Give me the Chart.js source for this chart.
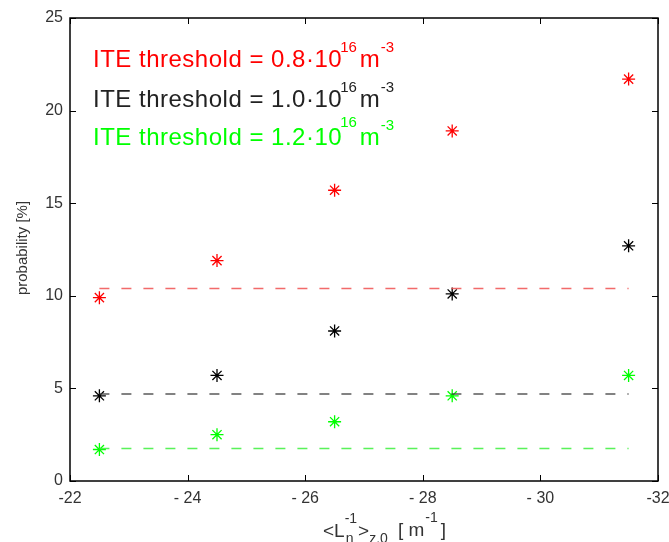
<!DOCTYPE html>
<html>
<head>
<meta charset="utf-8">
<script src="https://cdn.jsdelivr.net/npm/chart.js@4"></script>
<style>
html,body{margin:0;padding:0;background:#fff;}
#c{display:block;}
</style>
</head>
<body>
<canvas id="c" width="669" height="542"></canvas>
<script>
// ---- data ----
const xValues = [-22.5, -24.5, -26.5, -28.5, -31.5];
const probRed = [9.9, 11.9, 15.7, 18.9, 21.7];     // threshold 0.8e16
const probBlack = [4.6, 5.7, 8.1, 10.1, 12.7];    // threshold 1.0e16
const probGreen = [1.7, 2.5, 3.2, 4.6, 5.7];      // threshold 1.2e16
const thresholdLevels = [10.4, 4.7, 1.75];          // dashed reference levels (red, black, green)
const lineRange = [-22.5, -31.5];
const xTicks = [-22, -24, -26, -28, -30, -32];
const xTickLabels = ['-22', '- 24', '- 26', '- 28', '- 30', '-32'];
const yTicks = [0, 5, 10, 15, 20, 25];
const seriesColors = ['#ff0000', '#000000', '#00ff00'];
const dashColors = ['rgba(240,80,80,0.85)', 'rgba(60,60,60,0.85)', 'rgba(60,240,60,0.85)'];
const legendTexts = [
  ['ITE threshold = 0.8\u00b710', '16', 'm', '-3'],
  ['ITE threshold = 1.0\u00b710', '16', 'm', '-3'],
  ['ITE threshold = 1.2\u00b710', '16', 'm', '-3']
];

const FONT = '"Liberation Sans", Arial, Helvetica, sans-serif';

function pts(ys){ return xValues.map((x,i)=>({x:x, y:ys[i]})); }
function hline(v){ return lineRange.map(x=>({x:x, y:v})); }

const seriesData = [probRed, probBlack, probGreen];
const datasets = [];
thresholdLevels.forEach((v,i)=>{
  datasets.push({
    data: hline(v), showLine: true, borderColor: dashColors[i], borderWidth: 1.5,
    borderDash: [10, 12], pointRadius: 0, fill: false
  });
});
seriesData.forEach((ys,i)=>{
  datasets.push({
    data: pts(ys), showLine: false, pointStyle: 'star', pointRadius: 6.5,
    borderColor: seriesColors[i], backgroundColor: seriesColors[i], pointBorderWidth: 1.3
  });
});

const framePlugin = {
  id: 'frame',
  afterDraw(chart){
    const ctx = chart.ctx, a = chart.chartArea;
    const xs = chart.scales.x, ys = chart.scales.y;
    ctx.save();
    ctx.strokeStyle = '#000';
    ctx.lineWidth = 1.5;
    ctx.strokeRect(a.left, a.top, a.right - a.left, a.bottom - a.top);
    ctx.lineWidth = 1;
    const tl = 6;
    xTicks.forEach(t=>{
      const px = Math.round(xs.getPixelForValue(t)) + 0.5;
      ctx.beginPath();
      ctx.moveTo(px, a.bottom); ctx.lineTo(px, a.bottom - tl);
      ctx.moveTo(px, a.top); ctx.lineTo(px, a.top + tl);
      ctx.stroke();
    });
    yTicks.forEach(t=>{
      const py = Math.round(ys.getPixelForValue(t)) + 0.5;
      ctx.beginPath();
      ctx.moveTo(a.left, py); ctx.lineTo(a.left + tl, py);
      ctx.moveTo(a.right, py); ctx.lineTo(a.right - tl, py);
      ctx.stroke();
    });

    // annotation texts
    ctx.textBaseline = 'alphabetic';
    ctx.textAlign = 'left';
    const baselines = [67, 107, 145];
    const supOff = [15, 15, 18];
    legendTexts.forEach((p,i)=>{
      const y = baselines[i];
      let x = 93;
      ctx.fillStyle = seriesColors[i] === '#000000' ? '#222' : seriesColors[i];
      ctx.letterSpacing = '0.5px';
      ctx.font = '24px ' + FONT;
      ctx.fillText(p[0], x, y); x += ctx.measureText(p[0]).width;
      ctx.letterSpacing = '0px';
      ctx.font = '15px ' + FONT;
      ctx.fillText(p[1], x - 2, y - supOff[i]); x += ctx.measureText(p[1]).width + 1;
      ctx.font = '24px ' + FONT;
      ctx.fillText(p[2], x, y); x += ctx.measureText(p[2]).width + 1;
      ctx.font = '15px ' + FONT;
      ctx.fillText(p[3], x, y - 15);
    });

    // y axis title
    ctx.fillStyle = '#333';
    ctx.font = '15px ' + FONT;
    ctx.save();
    ctx.translate(27, 248);
    ctx.rotate(-Math.PI/2);
    ctx.textAlign = 'center';
    ctx.fillText('probability [%]', 0, 0);
    ctx.restore();

    // x axis title: <L_n^-1>_{z,0} [ m^-1 ]
    ctx.fillStyle = '#333';
    let x = 323, y = 537;
    const big = '19px ' + FONT, small = '14px ' + FONT;
    ctx.font = big; ctx.fillText('<L', x, y); x += ctx.measureText('<L').width;
    ctx.font = small; ctx.fillText('-1', x, y - 14); ctx.fillText('n', x + 1, y + 6);
    x += ctx.measureText('-1').width + 1;
    ctx.font = big; ctx.fillText('>', x, y); x += ctx.measureText('>').width;
    ctx.font = small; ctx.fillText('z,0', x, y + 6); x += ctx.measureText('z,0').width + 10;
    ctx.font = big; ctx.fillText('[ m', x, y - 1); x += ctx.measureText('[ m').width + 1;
    ctx.font = small; ctx.fillText('-1', x, y - 15); x += ctx.measureText('-1').width + 3;
    ctx.font = big; ctx.fillText(']', x, y - 1);
    ctx.restore();
  }
};

new Chart(document.getElementById('c'), {
  type: 'scatter',
  data: { datasets: datasets },
  options: {
    responsive: false,
    animation: false,
    devicePixelRatio: 1,
    layout: { padding: { top: 18, right: 11, left: 0, bottom: 0 } },
    plugins: { legend: { display: false }, tooltip: { enabled: false } },
    scales: {
      x: {
        type: 'linear', min: -32, max: -22, reverse: true,
        grid: { display: false, drawTicks: false },
        border: { display: false },
        afterBuildTicks(s){ s.ticks = xTicks.map(v=>({value:v})); },
        afterFit(s){ s.height = 61; s.paddingLeft = 0; s.paddingRight = 0; },
        ticks: {
          padding: 8, color: '#333', font: { family: FONT, size: 16 },
          maxRotation: 0, autoSkip: false,
          callback(v){ const i = xTicks.indexOf(v); return i >= 0 ? xTickLabels[i] : ''; }
        }
      },
      y: {
        type: 'linear', min: 0, max: 25,
        grid: { display: false, drawTicks: false },
        border: { display: false },
        afterBuildTicks(s){ s.ticks = yTicks.map(v=>({value:v})); },
        afterFit(s){ s.width = 70; s.paddingTop = 0; s.paddingBottom = 0; },
        ticks: { padding: 7, color: '#333', font: { family: FONT, size: 16 } }
      }
    }
  },
  plugins: [framePlugin]
});
</script>
</body>
</html>
